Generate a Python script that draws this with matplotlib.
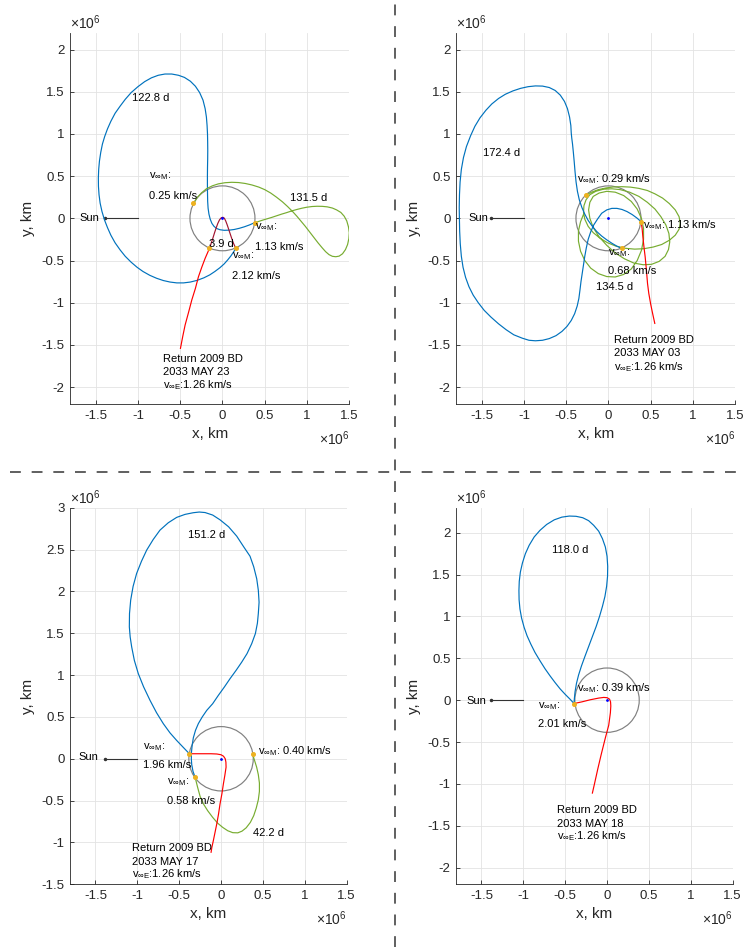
import matplotlib
matplotlib.use('Agg')
import matplotlib.pyplot as plt
from matplotlib.lines import Line2D
from matplotlib.patches import Circle
from matplotlib.ticker import FuncFormatter

plt.rcParams['font.family'] = ['Liberation Sans', 'DejaVu Sans']
plt.rcParams['mathtext.fontset'] = 'custom'
plt.rcParams['mathtext.rm'] = 'Liberation Sans'
plt.rcParams['mathtext.it'] = 'Liberation Sans:italic'
plt.rcParams['mathtext.bf'] = 'Liberation Sans:bold'
plt.rcParams['axes.unicode_minus'] = False

# ---------------- data (units: 10^6 km) ----------------
MOON_ORBIT_R = 0.3844
x_ticks = [-1.5, -1, -0.5, 0, 0.5, 1, 1.5]
y_ticks_a = [-2, -1.5, -1, -0.5, 0, 0.5, 1, 1.5, 2]
y_ticks_b = [-1.5, -1, -0.5, 0, 0.5, 1, 1.5, 2, 2.5, 3]
sun_x = [-1.39, -1.0]
sun_y = [0, 0]

# Panel 1 (top-left)
p1_blue_x = [0.158, 0.13, 0.1, 0.06, 0.02, -0.03, -0.09, -0.15, -0.22, -0.3, -0.38, -0.46, -0.54, -0.62, -0.7,
             -0.78, -0.86, -0.94, -1.01, -1.08, -1.15, -1.21, -1.27, -1.32, -1.36, -1.395, -1.425, -1.447, -1.46,
             -1.467, -1.468, -1.464, -1.455, -1.44, -1.42, -1.393, -1.36, -1.32, -1.27, -1.21, -1.15, -1.08, -1.0,
             -0.92, -0.84, -0.76, -0.68, -0.6, -0.52, -0.45, -0.38, -0.32, -0.27, -0.23, -0.205, -0.19, -0.182,
             -0.177, -0.175, -0.174, -0.175, -0.177, -0.178, -0.178, -0.177, -0.175, -0.17, -0.16, -0.145, -0.125,
             -0.1, -0.07, -0.03, 0.02, 0.08, 0.14, 0.2, 0.26, 0.32, 0.379]
p1_blue_y = [-0.356, -0.4, -0.445, -0.495, -0.54, -0.585, -0.63, -0.67, -0.705, -0.735, -0.755, -0.765, -0.765,
             -0.755, -0.737, -0.71, -0.675, -0.63, -0.58, -0.52, -0.45, -0.375, -0.29, -0.2, -0.11, -0.02, 0.08,
             0.18, 0.28, 0.38, 0.48, 0.58, 0.68, 0.78, 0.88, 0.97, 1.06, 1.15, 1.245, 1.33, 1.41, 1.49, 1.56, 1.62,
             1.665, 1.695, 1.71, 1.71, 1.695, 1.67, 1.625, 1.565, 1.49, 1.4, 1.3, 1.2, 1.1, 1.0, 0.9, 0.8, 0.7,
             0.6, 0.5, 0.4, 0.3, 0.2, 0.12, 0.05, -0.01, -0.06, -0.095, -0.12, -0.135, -0.142, -0.14, -0.132,
             -0.118, -0.1, -0.078, -0.052]
p1_green_x = [0.387, 0.43, 0.48, 0.53, 0.58, 0.64, 0.7, 0.76, 0.82, 0.88, 0.94, 1.0, 1.06, 1.12, 1.18, 1.24, 1.3,
              1.35, 1.4, 1.44, 1.47, 1.49, 1.5, 1.495, 1.48, 1.455, 1.42, 1.38, 1.34, 1.3, 1.26, 1.22, 1.18, 1.13,
              1.08, 1.03, 0.98, 0.93, 0.88, 0.83, 0.77, 0.71, 0.64, 0.57, 0.5, 0.43, 0.35, 0.27, 0.19, 0.11, 0.03,
              -0.05, -0.12, -0.19, -0.25, -0.3, -0.343]
p1_green_y = [-0.051, -0.036, -0.02, -0.005, 0.01, 0.03, 0.05, 0.068, 0.088, 0.105, 0.12, 0.132, 0.14, 0.143,
              0.142, 0.136, 0.122, 0.1, 0.07, 0.025, -0.03, -0.1, -0.17, -0.24, -0.31, -0.37, -0.42, -0.448, -0.455,
              -0.45, -0.43, -0.395, -0.35, -0.29, -0.225, -0.16, -0.095, -0.035, 0.025, 0.08, 0.14, 0.195, 0.25,
              0.3, 0.34, 0.37, 0.395, 0.413, 0.424, 0.427, 0.422, 0.408, 0.385, 0.35, 0.3, 0.245, 0.178]
p1_red_x = [-0.497, -0.47, -0.442, -0.40, -0.363, -0.32, -0.284, -0.245, -0.205, -0.154]
p1_red_y = [-1.541, -1.40, -1.265, -1.11, -0.968, -0.83, -0.692, -0.58, -0.474, -0.356]
p1_arc_x = [-0.154, -0.135, -0.115, -0.095, -0.075, -0.055, -0.035, -0.015, 0.004, 0.022, 0.038, 0.055, 0.072,
            0.09, 0.11, 0.13, 0.158]
p1_arc_y = [-0.356, -0.3, -0.24, -0.175, -0.115, -0.06, -0.018, 0.006, 0.013, 0.002, -0.03, -0.075, -0.125,
            -0.18, -0.24, -0.295, -0.356]
p1_dots_x = [-0.343, 0.387, 0.158, -0.154]
p1_dots_y = [0.178, -0.051, -0.356, -0.356]

# Panel 2 (top-right)
p2_blue_x = [0.158, 0.1, 0.04, -0.02, -0.08, -0.14, -0.19, -0.24, -0.28, -0.315, -0.345, -0.367, -0.383, -0.395,
             -0.405, -0.415, -0.425, -0.434, -0.44, -0.445, -0.46, -0.485, -0.52, -0.57, -0.63, -0.7, -0.78,
             -0.864, -0.95, -1.04, -1.13, -1.22, -1.3, -1.38, -1.45, -1.52, -1.58, -1.63, -1.68, -1.715, -1.74,
             -1.755, -1.762, -1.765, -1.763, -1.76, -1.753, -1.74, -1.72, -1.69, -1.65, -1.6, -1.54, -1.47, -1.39,
             -1.3, -1.21, -1.12, -1.02, -0.94, -0.864, -0.78, -0.7, -0.62, -0.55, -0.49, -0.44, -0.4, -0.37, -0.35,
             -0.337, -0.325, -0.31, -0.295, -0.28, -0.262, -0.24, -0.21, -0.175, -0.13, -0.08, -0.02, 0.04, 0.1,
             0.16, 0.22, 0.28, 0.335, 0.387]
p2_blue_y = [-0.356, -0.33, -0.295, -0.255, -0.21, -0.155, -0.095, -0.025, 0.05, 0.13, 0.22, 0.32, 0.43, 0.55,
             0.67, 0.78, 0.88, 0.95, 1.01, 1.1, 1.2, 1.3, 1.385, 1.46, 1.515, 1.55, 1.567, 1.569, 1.56, 1.54, 1.51,
             1.47, 1.42, 1.355, 1.28, 1.19, 1.09, 0.98, 0.85, 0.72, 0.58, 0.43, 0.28, 0.13, 0.0, -0.15, -0.3,
             -0.45, -0.58, -0.7, -0.81, -0.91, -1.0, -1.09, -1.17, -1.25, -1.32, -1.38, -1.42, -1.445, -1.451,
             -1.445, -1.425, -1.39, -1.34, -1.28, -1.21, -1.13, -1.04, -0.95, -0.85, -0.75, -0.65, -0.55, -0.45,
             -0.35, -0.25, -0.16, -0.08, -0.01, 0.06, 0.1, 0.118, 0.118, 0.105, 0.08, 0.045, 0.005, -0.04]
p2_green_x = [-0.264, -0.2, -0.12, -0.03, 0.06, 0.16, 0.26, 0.36, 0.46, 0.55, 0.64, 0.72, 0.79, 0.835, 0.85,
              0.835, 0.79, 0.72, 0.63, 0.53, 0.42, 0.31, 0.2, 0.09, -0.01, -0.1, -0.18, -0.24, -0.28, -0.295,
              -0.29, -0.265, -0.22, -0.15, -0.06, 0.04, 0.14, 0.25, 0.36, 0.46, 0.55, 0.62, 0.68, 0.715, 0.725,
              0.71, 0.67, 0.6, 0.51, 0.41, 0.3, 0.19, 0.08, -0.02, -0.11, -0.18, -0.22, -0.235, -0.22, -0.18,
              -0.11, -0.02, 0.08, 0.18, 0.27, 0.34, 0.39, 0.415, 0.415, 0.39, 0.34, 0.27, 0.18, 0.08, -0.02, -0.12,
              -0.21, -0.28, -0.33, -0.355, -0.355, -0.33, -0.29]
p2_green_y = [0.276, 0.31, 0.34, 0.36, 0.372, 0.375, 0.37, 0.355, 0.33, 0.29, 0.24, 0.175, 0.1, 0.02, -0.06,
              -0.13, -0.2, -0.26, -0.31, -0.34, -0.36, -0.365, -0.355, -0.33, -0.29, -0.235, -0.17, -0.095, -0.01,
              0.07, 0.15, 0.22, 0.28, 0.32, 0.345, 0.35, 0.34, 0.31, 0.26, 0.19, 0.11, 0.02, -0.08, -0.18, -0.28,
              -0.37, -0.45, -0.51, -0.545, -0.55, -0.53, -0.48, -0.41, -0.32, -0.22, -0.11, 0.0, 0.1, 0.19, 0.26,
              0.3, 0.32, 0.31, 0.27, 0.2, 0.11, 0.0, -0.12, -0.25, -0.38, -0.5, -0.6, -0.665, -0.695, -0.69, -0.655,
              -0.59, -0.5, -0.39, -0.27, -0.15, -0.04, 0.06]
p2_red_x = [0.387, 0.398, 0.407, 0.42, 0.434, 0.448, 0.462, 0.477, 0.5, 0.525, 0.548]
p2_red_y = [-0.04, -0.12, -0.218, -0.34, -0.455, -0.6, -0.771, -0.889, -1.02, -1.14, -1.245]
p2_dots_x = [-0.264, 0.387, 0.158]
p2_dots_y = [0.276, -0.04, -0.356]

# Panel 3 (bottom-left)
p3_blue_x = [-0.31, -0.335, -0.35, -0.355, -0.353, -0.345, -0.331, -0.305, -0.271, -0.225, -0.171, -0.1, -0.032,
             0.04, 0.108, 0.18, 0.247, 0.31, 0.366, 0.41, 0.434, 0.445, 0.454, 0.445, 0.426, 0.39, 0.346, 0.27,
             0.187, 0.09, -0.012, -0.1, -0.191, -0.26, -0.331, -0.43, -0.53, -0.63, -0.729, -0.81, -0.888, -0.95,
             -1.008, -1.05, -1.079, -1.093, -1.095, -1.085, -1.067, -1.035, -0.988, -0.925, -0.848, -0.77, -0.689,
             -0.61, -0.53, -0.45, -0.378]
p3_blue_y = [-0.22, -0.15, -0.07, 0.0, 0.08, 0.16, 0.25, 0.34, 0.42, 0.499, 0.578, 0.658, 0.758, 0.858, 0.958,
             1.057, 1.155, 1.256, 1.375, 1.496, 1.62, 1.735, 1.87, 2.014, 2.15, 2.294, 2.42, 2.533, 2.66, 2.772,
             2.855, 2.912, 2.942, 2.948, 2.94, 2.92, 2.884, 2.82, 2.732, 2.62, 2.493, 2.36, 2.214, 2.06, 1.895,
             1.735, 1.576, 1.455, 1.336, 1.175, 1.017, 0.86, 0.698, 0.55, 0.419, 0.31, 0.219, 0.135, 0.06]
p3_green_x = [-0.31, -0.28, -0.25, -0.21, -0.16, -0.1, -0.04, 0.02, 0.08, 0.14, 0.2, 0.25, 0.3, 0.35, 0.39, 0.42,
              0.445, 0.458, 0.458, 0.445, 0.425, 0.4, 0.378]
p3_green_y = [-0.22, -0.34, -0.45, -0.54, -0.62, -0.7, -0.77, -0.82, -0.86, -0.883, -0.885, -0.865, -0.825,
              -0.76, -0.68, -0.59, -0.49, -0.39, -0.29, -0.19, -0.1, -0.02, 0.051]
p3_red_x = [-0.378, -0.25, -0.12, -0.05, 0.0, 0.03, 0.05, 0.058, 0.06, 0.045, 0.028, 0.01, -0.012, -0.03, -0.051,
            -0.072, -0.092, -0.11, -0.119]
p3_red_y = [0.06, 0.06, 0.06, 0.057, 0.048, 0.03, 0.0, -0.04, -0.1, -0.2, -0.3, -0.42, -0.539, -0.66, -0.778,
            -0.88, -0.978, -1.06, -1.117]
p3_dots_x = [-0.378, -0.31, 0.378]
p3_dots_y = [0.06, -0.22, 0.051]

# Panel 4 (bottom-right)
p4_blue_x = [-0.394, -0.44, -0.5, -0.56, -0.62, -0.68, -0.74, -0.8, -0.86, -0.91, -0.955, -0.99, -1.02, -1.04,
             -1.05, -1.052, -1.048, -1.035, -1.01, -0.975, -0.93, -0.87, -0.8, -0.72, -0.63, -0.54, -0.45, -0.37,
             -0.29, -0.22, -0.16, -0.1, -0.055, -0.02, 0.0, 0.008, 0.006, -0.005, -0.025, -0.055, -0.09, -0.13,
             -0.175, -0.22, -0.265, -0.305, -0.34, -0.365, -0.382, -0.39, -0.394]
p4_blue_y = [-0.04, 0.01, 0.07, 0.135, 0.21, 0.29, 0.375, 0.47, 0.57, 0.67, 0.77, 0.87, 0.98, 1.09, 1.2, 1.31,
             1.42, 1.53, 1.64, 1.75, 1.85, 1.95, 2.03, 2.1, 2.155, 2.187, 2.2, 2.197, 2.18, 2.145, 2.09, 2.02,
             1.93, 1.83, 1.72, 1.6, 1.48, 1.36, 1.24, 1.12, 1.0, 0.88, 0.76, 0.64, 0.52, 0.41, 0.3, 0.2, 0.1, 0.02,
             -0.04]
p4_red_x = [-0.394, -0.3, -0.2, -0.1, -0.04, 0.0, 0.03, 0.042, 0.045, 0.04, 0.02, -0.02, -0.07, -0.11, -0.15,
            -0.175]
p4_red_y = [-0.04, -0.02, 0.005, 0.025, 0.033, 0.03, 0.012, -0.02, -0.07, -0.15, -0.3, -0.45, -0.65, -0.82,
            -1.0, -1.11]
p4_dots_x = [-0.394]
p4_dots_y = [-0.04]

# ---------------- style ----------------
BLUE = '#0072BD'
GREEN = '#77AC30'
RED = '#FF0000'
DARKRED = '#A2142F'
ORANGE = '#EDB120'
CIRCLE = '#808080'
AXC = '#262626'
LW = 0.85
FS_TXT = 8
VM = r'v$_{\infty\mathrm{M}}$:'
VE = r'v$_{\infty\mathrm{E}}$:'

fig = plt.figure(figsize=(7.43, 9.47), dpi=100)

fmt = FuncFormatter(lambda v, p: '%g' % v)


def setup(ax, ylim, yticks):
    ax.set_xlim(-1.8, 1.5)
    ax.set_ylim(*ylim)
    ax.set_xticks(x_ticks)
    ax.set_yticks(yticks)
    ax.xaxis.set_major_formatter(fmt)
    ax.yaxis.set_major_formatter(fmt)
    ax.grid(True, color='#E3E3E3', linewidth=0.6)
    ax.set_axisbelow(True)
    for s in ['top', 'right']:
        ax.spines[s].set_visible(False)
    for s in ['left', 'bottom']:
        ax.spines[s].set_color(AXC)
        ax.spines[s].set_linewidth(0.6)
    ax.tick_params(direction='in', length=3, width=0.6, colors=AXC, labelsize=9.5, pad=4)
    ax.set_xlabel('x, km', fontsize=11, color=AXC)
    ax.set_ylabel('y, km', fontsize=11, color=AXC)
    h = ax.get_position().height * 947
    w = ax.get_position().width * 743
    ax.xaxis.set_label_coords(0.5, -23 / h)
    ax.yaxis.set_label_coords(-35 / w, 0.5)
    ax.text(0, 1 + 4 / h, r'$\times$10$^{6}$', transform=ax.transAxes, ha='left', va='baseline',
            fontsize=10, color=AXC)
    ax.text(1, -41 / h, r'$\times$10$^{6}$', transform=ax.transAxes, ha='right', va='baseline',
            fontsize=10, color=AXC)
    ax.add_patch(Circle((0, 0), MOON_ORBIT_R, fill=False, edgecolor=CIRCLE, linewidth=LW, zorder=2))
    ax.plot(sun_x, sun_y, color='#333333', linewidth=0.8, zorder=3)
    ax.plot(sun_x[0], sun_y[0], marker='o', markersize=1.5, color='#333333', zorder=3)
    ax.plot([0], [0], marker='.', markersize=2, color='blue', zorder=6)


def txt(ax, x, y, s):
    ax.text(x, y, s, fontsize=FS_TXT, ha='left', va='baseline', color='black', zorder=7)


def dots(ax, xs, ys):
    ax.plot(xs, ys, linestyle='none', marker='o', markersize=2.6, color=ORANGE, zorder=6)


# Panel 1
ax1 = fig.add_axes([0.0946, 0.5734, 0.3755, 0.3921])
setup(ax1, (-2.2, 2.2), y_ticks_a)
ax1.plot(p1_blue_x, p1_blue_y, color=BLUE, lw=LW, zorder=4)
ax1.plot(p1_green_x, p1_green_y, color=GREEN, lw=LW, zorder=4)
ax1.plot(p1_red_x, p1_red_y, color=RED, lw=LW, zorder=4)
ax1.plot(p1_arc_x, p1_arc_y, color=DARKRED, lw=LW, zorder=4)
dots(ax1, p1_dots_x, p1_dots_y)
txt(ax1, -1.07, 1.387, '122.8 d')
txt(ax1, -0.867, 0.471, VM)
txt(ax1, -0.867, 0.229, '0.25 km/s')
txt(ax1, 0.793, 0.208, '131.5 d')
txt(ax1, -0.154, -0.345, '3.9 d')
txt(ax1, 0.387, -0.134, VM)
txt(ax1, 0.387, -0.376, '1.13 km/s')
txt(ax1, 0.118, -0.47, VM)
txt(ax1, 0.111, -0.72, '2.12 km/s')
txt(ax1, -0.698, -1.70, 'Return 2009 BD')
txt(ax1, -0.698, -1.858, '2033 MAY 23')
txt(ax1, -0.698, -2.011, VE + '1.26 km/s')
txt(ax1, -1.692, -0.036, 'Sun')

# Panel 2
ax2 = fig.add_axes([0.6141, 0.5734, 0.3755, 0.3921])
setup(ax2, (-2.2, 2.2), y_ticks_a)
ax2.plot(p2_green_x, p2_green_y, color=GREEN, lw=LW, zorder=4)
ax2.plot(p2_blue_x, p2_blue_y, color=BLUE, lw=LW, zorder=4)
ax2.plot(p2_red_x, p2_red_y, color=RED, lw=LW, zorder=4)
dots(ax2, p2_dots_x, p2_dots_y)
txt(ax2, -1.483, 0.742, '172.4 d')
txt(ax2, -0.371, 0.431, VM + ' 0.29 km/s')
txt(ax2, 0.406, -0.114, VM + ' 1.13 km/s')
txt(ax2, -0.008, -0.438, VM)
txt(ax2, -0.008, -0.661, '0.68 km/s')
txt(ax2, -0.146, -0.85, '134.5 d')
txt(ax2, 0.063, -1.479, 'Return 2009 BD')
txt(ax2, 0.063, -1.637, '2033 MAY 03')
txt(ax2, 0.063, -1.794, VE + '1.26 km/s')
txt(ax2, -1.653, -0.036, 'Sun')

# Panel 3
ax3 = fig.add_axes([0.0946, 0.0662, 0.3720, 0.3977])
setup(ax3, (-1.5, 3.0), y_ticks_b)
ax3.plot(p3_blue_x, p3_blue_y, color=BLUE, lw=LW, zorder=4)
ax3.plot(p3_green_x, p3_green_y, color=GREEN, lw=LW, zorder=4)
ax3.plot(p3_red_x, p3_red_y, color=RED, lw=LW, zorder=4)
dots(ax3, p3_dots_x, p3_dots_y)
txt(ax3, -0.398, 2.637, '151.2 d')
txt(ax3, -0.928, 0.113, VM)
txt(ax3, -0.928, -0.108, '1.96 km/s')
txt(ax3, 0.438, 0.053, VM + ' 0.40 km/s')
txt(ax3, -0.649, -0.302, VM)
txt(ax3, -0.649, -0.535, '0.58 km/s')
txt(ax3, 0.378, -0.918, '42.2 d')
txt(ax3, -1.067, -1.105, 'Return 2009 BD')
txt(ax3, -1.067, -1.273, '2033 MAY 17')
txt(ax3, -1.067, -1.411, VE + '1.26 km/s')
txt(ax3, -1.697, -0.02, 'Sun')

# Panel 4
ax4 = fig.add_axes([0.6141, 0.0662, 0.3720, 0.3977])
setup(ax4, (-2.2, 2.3), y_ticks_a)
ax4.plot(p4_blue_x, p4_blue_y, color=BLUE, lw=LW, zorder=4)
ax4.plot(p4_red_x, p4_red_y, color=RED, lw=LW, zorder=4)
dots(ax4, p4_dots_x, p4_dots_y)
txt(ax4, -0.661, 1.763, '118.0 d')
txt(ax4, -0.362, 0.104, VM + ' 0.39 km/s')
txt(ax4, -0.828, -0.095, VM)
txt(ax4, -0.828, -0.319, '2.01 km/s')
txt(ax4, -0.597, -1.349, 'Return 2009 BD')
txt(ax4, -0.597, -1.513, '2033 MAY 18')
txt(ax4, -0.597, -1.659, VE + '1.26 km/s')
txt(ax4, -1.684, -0.04, 'Sun')

# separators
fig.add_artist(Line2D([0.5312, 0.5312], [0, 1], transform=fig.transFigure, color='#444444',
                      linewidth=1.2, linestyle=(0, (6.5, 6.5))))
fig.add_artist(Line2D([0.0135, 1], [0.5013, 0.5013], transform=fig.transFigure, color='#444444',
                      linewidth=1.2, linestyle=(0, (6.5, 6.5))))

fig.savefig('out.png', dpi=100)
